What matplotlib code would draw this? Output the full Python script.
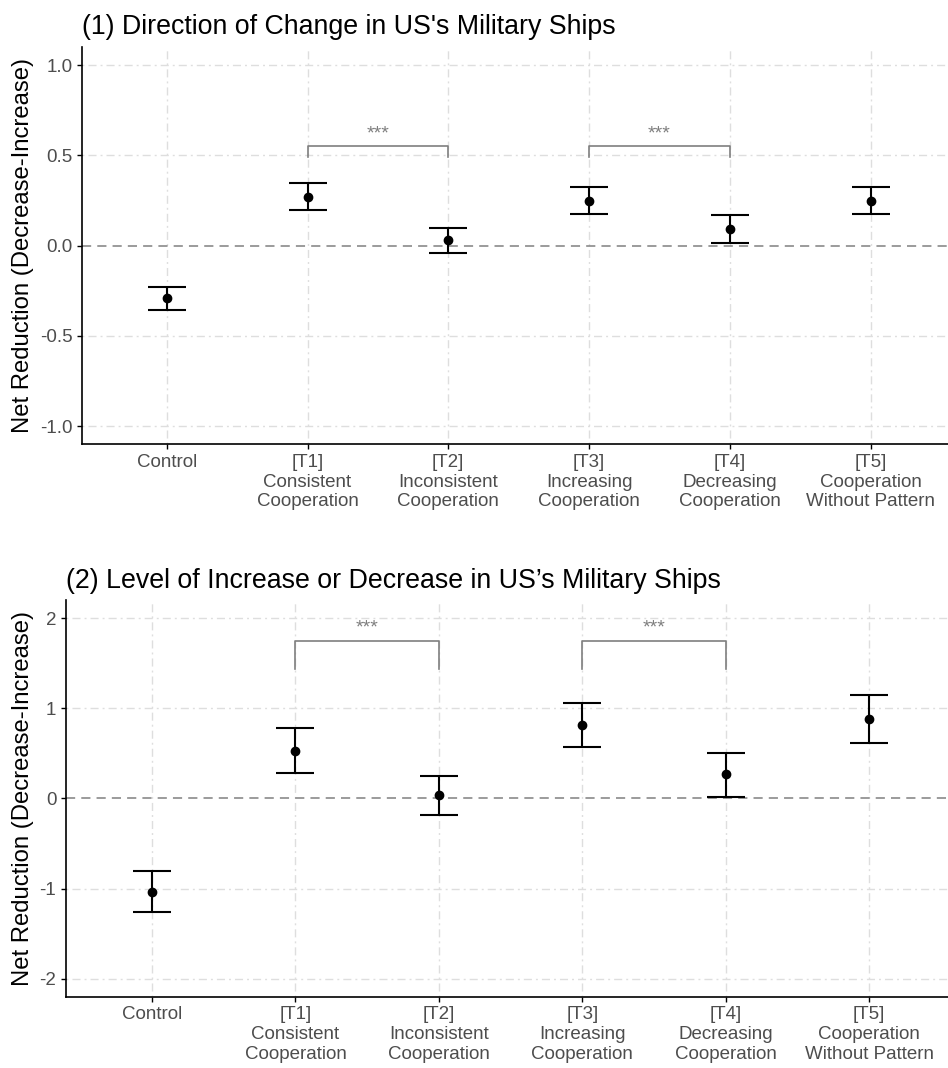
import matplotlib
matplotlib.use("Agg")
import matplotlib.pyplot as plt
import numpy as np

plt.rcParams['font.family'] = ['Liberation Sans', 'DejaVu Sans']

categories = ["Control", "[T1]\nConsistent\nCooperation", "[T2]\nInconsistent\nCooperation",
              "[T3]\nIncreasing\nCooperation", "[T4]\nDecreasing\nCooperation",
              "[T5]\nCooperation\nWithout Pattern"]

# Panel 1: direction of change
dir_mean = [-0.29, 0.272, 0.029, 0.249, 0.090, 0.249]
dir_low = [-0.355, 0.195, -0.039, 0.173, 0.017, 0.173]
dir_high = [-0.227, 0.348, 0.098, 0.324, 0.167, 0.324]
dir_ticks = [-1.0, -0.5, 0.0, 0.5, 1.0]
dir_ticklabels = ["-1.0", "-0.5", "0.0", "0.5", "1.0"]

# Panel 2: level of increase or decrease
lvl_mean = [-1.035, 0.527, 0.033, 0.818, 0.265, 0.880]
lvl_low = [-1.26, 0.276, -0.188, 0.571, 0.018, 0.611]
lvl_high = [-0.807, 0.785, 0.250, 1.061, 0.505, 1.146]
lvl_ticks = [-2, -1, 0, 1, 2]
lvl_ticklabels = ["-2", "-1", "0", "1", "2"]

# significance brackets: (left category, right category, top, leg bottom, star height)
dir_brackets = [(1, 2, 0.55, 0.49, 0.62), (3, 4, 0.55, 0.49, 0.62)]
lvl_brackets = [(1, 2, 1.75, 1.44, 1.89), (3, 4, 1.75, 1.44, 1.89)]

titles = ["(1) Direction of Change in US's Military Ships",
          "(2) Level of Increase or Decrease in US\u2019s Military Ships"]
ylabel = "Net Reduction (Decrease-Increase)"

W, H = 948, 1068
fig = plt.figure(figsize=(W / 100, H / 100), dpi=100)

def px_axes(left, top, right, bottom):
    return fig.add_axes([left / W, 1 - bottom / H, (right - left) / W, (bottom - top) / H])

ax1 = px_axes(82.3, 47, 948, 444.3)
ax2 = px_axes(66, 600, 948, 996.7)

grid_color = "#DEDEDE"
tick_color = "#4D4D4D"

def draw_panel(ax, mean, low, high, ticks, ticklabels, ylim, brackets, title):
    x = np.arange(len(categories))
    ax.set_xlim(-0.6, len(categories) - 1 + 0.55)
    ax.set_ylim(*ylim)
    # grid
    for xi in x:
        ax.plot([xi, xi], ylim, color=grid_color, lw=1.0,
                dashes=(1.4, 2.9, 5.8, 2.9), zorder=0)
    for t in ticks:
        if t != 0:
            ax.plot([-0.6, len(categories)], [t, t], color=grid_color, lw=1.0,
                    dashes=(1.4, 2.9, 5.8, 2.9), zorder=0)
    ax.axhline(0, color="#808080", lw=1.1, dashes=(6, 4), zorder=1)
    # error bars and points
    m = np.array(mean)
    yerr = np.vstack([m - np.array(low), np.array(high) - m])
    ax.errorbar(x, m, yerr=yerr, fmt='o', color='black', ms=6, elinewidth=1.5,
                capsize=14, capthick=1.5, zorder=3)
    # brackets
    for a, b, top, leg, star in brackets:
        ax.plot([a, a, b, b], [leg, top, top, leg], color="#7F7F7F", lw=1.2, zorder=2)
        ax.text((a + b) / 2, star, "***", ha='center', va='center',
                color="#7F7F7F", fontsize=14)
    ax.set_xticks(x)
    ax.set_xticklabels(categories, linespacing=1.2)
    ax.set_yticks(ticks)
    ax.set_yticklabels(ticklabels)
    ax.tick_params(axis='both', colors='black', labelcolor=tick_color,
                   labelsize=13.5, length=3.5, width=1.0, pad=3.5)
    for s in ['top', 'right']:
        ax.spines[s].set_visible(False)
    for s in ['left', 'bottom']:
        ax.spines[s].set_linewidth(1.2)
    ax.set_ylabel(ylabel, fontsize=17.2, labelpad=4)
    ax.set_title(title, loc='left', fontsize=19.3, pad=9, x=0.0)

draw_panel(ax1, dir_mean, dir_low, dir_high, dir_ticks, dir_ticklabels, (-1.1, 1.1),
           dir_brackets, titles[0])
draw_panel(ax2, lvl_mean, lvl_low, lvl_high, lvl_ticks, lvl_ticklabels, (-2.2, 2.2),
           lvl_brackets, titles[1])

fig.savefig("out.png", dpi=100, facecolor='white')
